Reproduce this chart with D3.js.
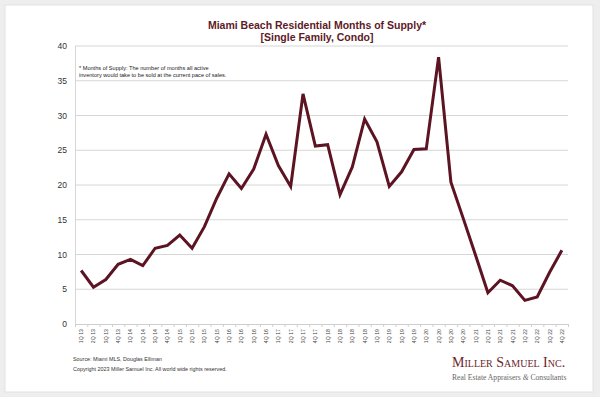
<!DOCTYPE html>
<html lang="en">
<head>
<meta charset="UTF-8" />
<title>Miami Beach Residential Months of Supply</title>
<script src="https://d3js.org/d3.v7.min.js"></script>
<style>
  html, body {
    margin: 0;
    padding: 0;
    background: #eeeeee;
  }
  svg {
    display: block;
    font-family: "Liberation Sans", Arial, sans-serif;
  }
</style>
</head>
<body>
<div id="chart"></div>
<script>
// quarters 1Q13 .. 4Q22
const years = ["13", "14", "15", "16", "17", "18", "19", "20", "21", "22"];
const quarters = [];
years.forEach(y => ["1Q", "2Q", "3Q", "4Q"].forEach(q => quarters.push(q + " " + y)));

// months of supply
const monthsSupply = [
  7.7, 5.3, 6.4, 8.6, 9.3, 8.4, 10.9, 11.3, 12.8, 10.9,
  14.0, 18.1, 21.6, 19.5, 22.3, 27.3, 22.8, 19.8, 33.1, 25.6,
  25.8, 18.6, 22.6, 29.5, 26.2, 19.8, 21.9, 25.1, 25.2, 38.4,
  20.4, 15.2, 9.9, 4.5, 6.3, 5.5, 3.4, 3.9, 7.4, 10.6
];

const yTicks = [0, 5, 10, 15, 20, 25, 30, 35, 40];

const W = 600, H = 397;
const maroon = "#5c1322";

const svg = d3.select("#chart").append("svg")
  .attr("width", W)
  .attr("height", H);

// white card
svg.append("rect")
  .attr("x", 5).attr("y", 5)
  .attr("width", 588).attr("height", 387)
  .attr("fill", "#fff")
  .attr("stroke", "#e2e2e2");

const x = d3.scaleBand()
  .domain(quarters)
  .range([75, 568]);

const y = d3.scaleLinear()
  .domain([0, 40])
  .range([324, 46]);

const cx = d => x(d) + x.bandwidth() / 2;

// gridlines
svg.append("g")
  .selectAll("line")
  .data(yTicks.filter(t => t > 0))
  .join("line")
  .attr("x1", 75).attr("x2", 568)
  .attr("y1", d => y(d)).attr("y2", d => y(d))
  .attr("stroke", "#d6d6d6")
  .attr("stroke-width", 1);

// y axis line
svg.append("line")
  .attr("x1", 75.5).attr("x2", 75.5)
  .attr("y1", y(40)).attr("y2", y(0))
  .attr("stroke", "#d6d6d6");

// x axis line + ticks at category boundaries
svg.append("line")
  .attr("x1", 75).attr("x2", 568)
  .attr("y1", y(0) + 0.5).attr("y2", y(0) + 0.5)
  .attr("stroke", "#cfcfcf");

svg.append("g")
  .selectAll("line")
  .data(quarters.concat(["end"]))
  .join("line")
  .attr("x1", (d, i) => 75 + i * x.step() + 0.5)
  .attr("x2", (d, i) => 75 + i * x.step() + 0.5)
  .attr("y1", y(0)).attr("y2", y(0) + 3)
  .attr("stroke", "#cfcfcf");

// y tick labels
svg.append("g")
  .selectAll("text")
  .data(yTicks)
  .join("text")
  .attr("x", 67)
  .attr("y", d => y(d) + 3)
  .attr("text-anchor", "end")
  .attr("font-size", 8.5)
  .attr("fill", "#333")
  .text(d => d);

// x tick labels, rotated
svg.append("g")
  .selectAll("text")
  .data(quarters)
  .join("text")
  .attr("transform", d => `translate(${cx(d) + 2},${y(0) + 5}) rotate(-90)`)
  .attr("text-anchor", "end")
  .attr("font-size", 5.2)
  .attr("fill", "#444")
  .text(d => d);

// data line
const line = d3.line()
  .x((d, i) => cx(quarters[i]))
  .y(d => y(d));

svg.append("path")
  .datum(monthsSupply)
  .attr("d", line)
  .attr("fill", "none")
  .attr("stroke", maroon)
  .attr("stroke-width", 3)
  .attr("stroke-linejoin", "miter");

// title
const title = svg.append("text")
  .attr("text-anchor", "middle")
  .attr("font-size", 10.5)
  .attr("font-weight", "bold")
  .attr("fill", "#5e1a26");
title.append("tspan").attr("x", 317).attr("y", 29).text("Miami Beach Residential Months of Supply*");
title.append("tspan").attr("x", 317).attr("y", 41).text("[Single Family, Condo]");

// footnote
const note = svg.append("text")
  .attr("font-size", 5.6)
  .attr("fill", "#222");
note.append("tspan").attr("x", 79).attr("y", 70).text("* Months of Supply: The number of months all active");
note.append("tspan").attr("x", 79).attr("y", 77).text("inventory would take to be sold at the current pace of sales.");

// source
svg.append("text")
  .attr("x", 73).attr("y", 361)
  .attr("font-size", 5.4)
  .attr("fill", "#333")
  .text("Source: Miami MLS, Douglas Elliman");
svg.append("text")
  .attr("x", 73).attr("y", 371)
  .attr("font-size", 5.4)
  .attr("fill", "#333")
  .text("Copyright 2023 Miller Samuel Inc.  All world wide rights reserved.");

// logo
svg.append("text")
  .attr("x", 452).attr("y", 367)
  .attr("font-family", "'Liberation Serif', 'DejaVu Serif', serif")
  .attr("font-size", 14)
  .attr("fill", "#6e1f2c")
  .attr("font-variant", "small-caps")
  .text("Miller Samuel Inc.");
const tag = svg.append("text")
  .attr("x", 452).attr("y", 380)
  .attr("font-family", "'Liberation Serif', 'DejaVu Serif', serif")
  .attr("font-size", 7.6)
  .attr("fill", "#666");
tag.append("tspan").text("Real Estate Appraisers ");
tag.append("tspan").attr("font-style", "italic").text("&");
tag.append("tspan").text(" Consultants");
</script>
</body>
</html>
